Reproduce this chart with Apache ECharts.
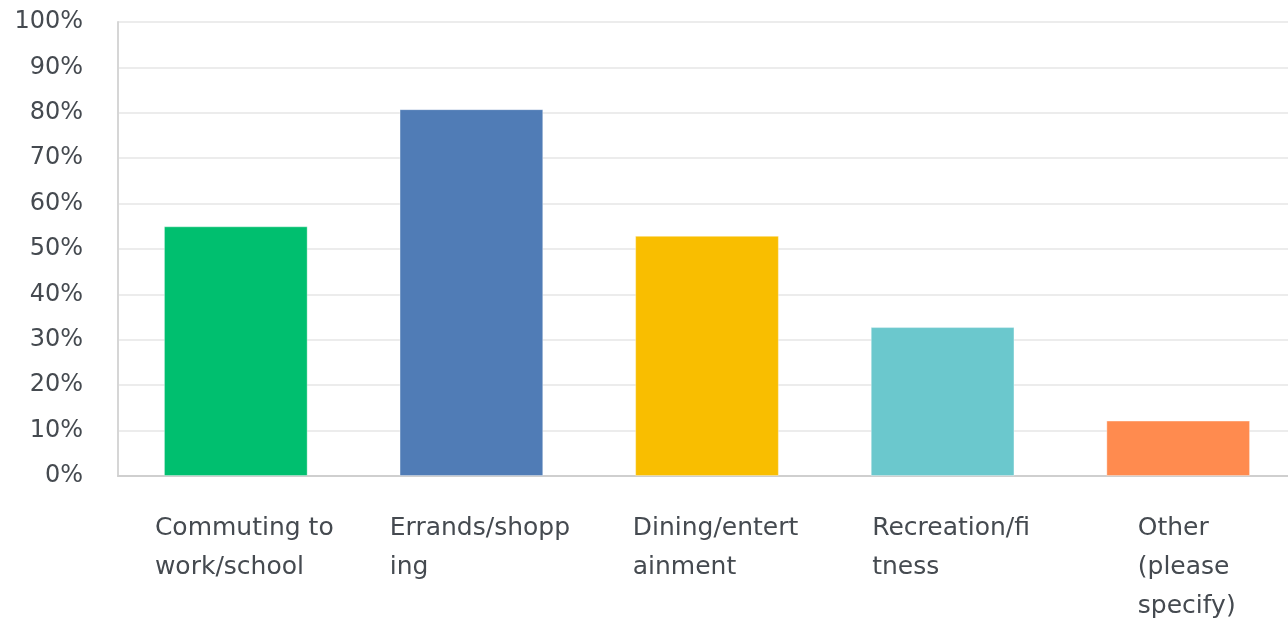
<!DOCTYPE html>
<html>
<head>
<meta charset="utf-8">
<script src="https://cdn.jsdelivr.net/npm/echarts@6/dist/echarts.min.js"></script>
<style>
html,body{margin:0;padding:0;overflow:hidden;background:#fff;}
#chart{width:1296px;height:619px;}
</style>
</head>
<body>
<div id="chart"></div>
<script>
const categories = [
  "Commuting to\nwork/school",
  "Errands/shopp\ning",
  "Dining/entert\nainment",
  "Recreation/fi\ntness",
  "Other\n(please\nspecify)"
];
const values = [55.0, 80.8, 52.9, 32.8, 12.2];
const barColors = ["#00bf6f", "#507cb6", "#f9be00", "#6bc8cd", "#ff8b4f"];
const yTicks = [0, 10, 20, 30, 40, 50, 60, 70, 80, 90, 100];

const FONT = "'DejaVu Sans', sans-serif";
const TEXT = "#454a50";

const chart = echarts.init(document.getElementById('chart'), null, {renderer: 'canvas'});
chart.setOption({
  animation: false,
  backgroundColor: '#fff',
  grid: {left: 118, right: 0, top: 22, bottom: 138, containLabel: false},
  xAxis: {
    type: 'category',
    data: categories,
    axisLine: {show: true, lineStyle: {color: '#cfcfcf', width: 2}},
    axisTick: {show: false},
    axisLabel: {
      interval: 0,
      margin: 33,
      padding: [0, 0, 0, 17],
      formatter: function (v) {
        return v.split('\n').map(function (l) { return '{l|' + l + '}'; }).join('\n');
      },
      rich: {
        l: {align: 'left', fontFamily: FONT, fontSize: 25, color: TEXT, lineHeight: 39}
      }
    }
  },
  yAxis: {
    type: 'value',
    min: 0,
    max: 100,
    interval: 10,
    axisLine: {show: true, lineStyle: {color: '#d6d6d6', width: 2}},
    axisTick: {show: false},
    splitLine: {lineStyle: {color: '#ececec', width: 2}},
    axisLabel: {
      margin: 35,
      fontFamily: FONT,
      fontSize: 24,
      color: TEXT,
      formatter: function (v) { return yTicks.indexOf(v) >= 0 ? v + '%' : ''; }
    }
  },
  series: [{
    type: 'bar',
    data: values.map(function (v, i) {
      return {value: v, itemStyle: {color: barColors[i], borderColor: 'rgba(255,255,255,0.35)', borderWidth: 1}};
    }),
    barWidth: '61%'
  }]
});
</script>
</body>
</html>
